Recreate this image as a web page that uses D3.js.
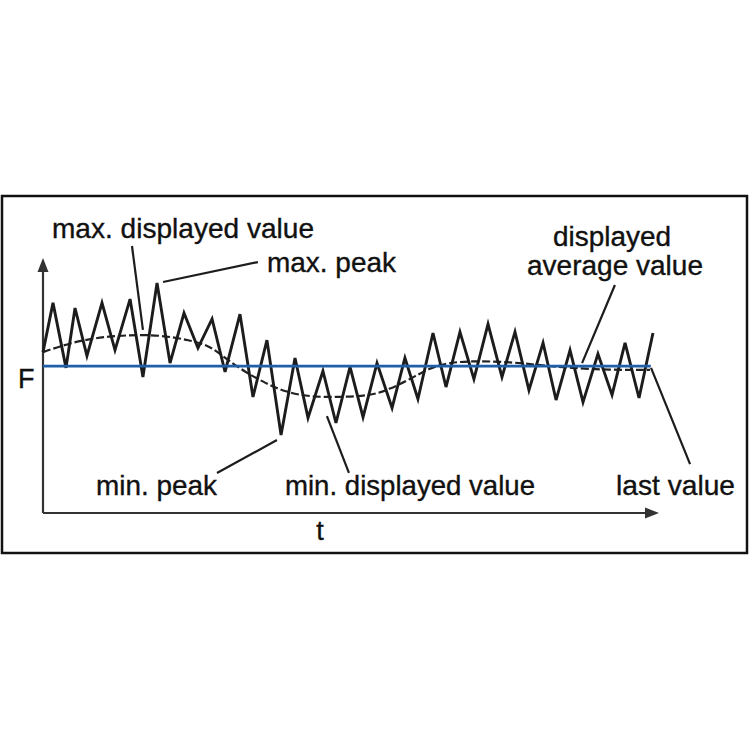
<!DOCTYPE html>
<html>
<head>
<meta charset="utf-8">
<script src="https://cdn.jsdelivr.net/npm/d3@7"></script>
<style>
  html, body { margin: 0; padding: 0; background: #fff; }
  svg { display: block; }
  text { font-family: "Liberation Sans", Arial, Helvetica, sans-serif; fill: #111; stroke: #111; stroke-width: 0.35px; }
</style>
</head>
<body>
<svg id="chart" width="750" height="750"></svg>
<script>
// ---- data (time t in arbitrary units, force F in arbitrary units) ----
const signalT = [0, 0.73, 1.68, 2.34, 3.21, 4.31, 5.26, 6.36, 7.30, 8.33, 9.28, 10.30, 11.32, 12.35, 13.30, 14.39,
  15.34, 16.36, 17.39, 18.41, 19.36, 20.45, 21.40, 22.43, 23.38, 24.40, 25.50, 26.44, 27.39, 28.49, 29.44,
  30.46, 31.48, 32.51, 33.53, 34.48, 35.50, 36.53, 37.48, 38.50, 39.45, 40.54, 41.57, 42.52, 43.54, 44.56];
const signalF = [63.1, 82.4, 56.9, 80.4, 61.6, 82.4, 63.9, 83.9, 53.3, 90.2, 58.8, 78.4, 64.7, 76.1, 55.3, 78.0,
  45.5, 67.8, 30.6, 60.8, 37.3, 55.7, 35.3, 57.3, 37.6, 58.8, 41.2, 60.8, 44.7, 70.6, 49.4,
  71.0, 52.5, 74.1, 53.3, 71.0, 48.2, 66.7, 44.3, 63.9, 43.5, 62.4, 46.3, 66.7, 45.1, 70.6];

const avgT = [0, 1.97, 4.16, 6.36, 8.55, 10.74, 12.20, 13.30, 14.76, 16.22, 17.68, 19.50, 21.70, 23.89,
  25.35, 26.81, 28.27, 29.73, 31.92, 34.11, 36.31, 38.50, 41.42, 44.34];
const avgF = [63.1, 66.7, 69.0, 69.8, 69.8, 67.8, 65.5, 60.8, 55.3, 51.0, 47.5, 45.5, 45.5, 45.9,
  48.6, 52.5, 56.9, 59.2, 59.6, 59.2, 58.0, 56.9, 56.1, 56.1];

const levelF = 57.6;          // blue reference level
const levelT = [0, 44.4];

const axisLabels = { y: "F", x: "t" };

const annoTexts = ["max. displayed value", "max. peak", "displayed", "average value",
  "min. peak", "min. displayed value", "last value"];

// ---- layout ----
const svg = d3.select("#chart");
const x = d3.scaleLinear().domain([0, 45]).range([43, 659]);
const y = d3.scaleLinear().domain([0, 100]).range([513, 258]);

// frame
svg.append("rect").attr("x", 2).attr("y", 196).attr("width", 745).attr("height", 357)
  .attr("fill", "none").attr("stroke", "#111").attr("stroke-width", 2.5);

// axes
const axisColor = "#333";
svg.append("line").attr("x1", x(0)).attr("y1", y(0)).attr("x2", x(0)).attr("y2", y(100) + 10)
  .attr("stroke", axisColor).attr("stroke-width", 2.2);
svg.append("line").attr("x1", x(0)).attr("y1", y(0)).attr("x2", x(45) - 10).attr("y2", y(0))
  .attr("stroke", axisColor).attr("stroke-width", 2.2);
svg.append("path")
  .attr("d", `M${x(0)},${y(100)} L${x(0) - 5.5},${y(100) + 14} L${x(0) + 5.5},${y(100) + 14} Z`)
  .attr("fill", axisColor);
svg.append("path")
  .attr("d", `M${x(45)},${y(0)} L${x(45) - 14},${y(0) - 5.5} L${x(45) - 14},${y(0) + 5.5} Z`)
  .attr("fill", axisColor);

svg.append("text").attr("x", 18).attr("y", 388).attr("font-size", 27).text(axisLabels.y);
svg.append("text").attr("x", 320).attr("y", 540).attr("font-size", 27).attr("text-anchor", "middle").text(axisLabels.x);

// average (dashed smooth curve)
const avgData = avgT.map((t, i) => [t, avgF[i]]);
svg.append("path").datum(avgData)
  .attr("d", d3.line().x(d => x(d[0])).y(d => y(d[1])).curve(d3.curveBasis))
  .attr("fill", "none").attr("stroke", "#222").attr("stroke-width", 2.2)
  .attr("stroke-dasharray", "8,3");

// signal zigzag
const sigData = signalT.map((t, i) => [t, signalF[i]]);
svg.append("path").datum(sigData)
  .attr("d", d3.line().x(d => x(d[0])).y(d => y(d[1])))
  .attr("fill", "none").attr("stroke", "#1c1c1c").attr("stroke-width", 2.9)
  .attr("stroke-linejoin", "miter");

// blue level line
svg.append("line")
  .attr("x1", x(levelT[0])).attr("x2", x(levelT[1]))
  .attr("y1", y(levelF)).attr("y2", y(levelF))
  .attr("stroke", "#1f5ea8").attr("stroke-width", 2.6);

// leader lines (data units)
const leaders = [
  [[6.50, 104.7], [7.30, 71.8]],   // max displayed value
  [[8.77, 90.6], [15.70, 98.4]],   // max peak
  [[41.78, 89.4], [39.38, 58.8]],  // displayed average
  [[12.71, 15.7], [17.09, 28.6]],  // min peak
  [[20.74, 38.0], [22.35, 15.7]],  // min displayed value
  [[44.42, 56.9], [47.27, 19.2]]   // last value
];
leaders.forEach(l => {
  svg.append("line")
    .attr("x1", x(l[0][0])).attr("y1", y(l[0][1]))
    .attr("x2", x(l[1][0])).attr("y2", y(l[1][1]))
    .attr("stroke", "#1c1c1c").attr("stroke-width", 2.2);
});

// annotation texts
const annoPos = [
  { x: 52, y: 238, w: 262, fs: 28 },
  { x: 267, y: 272, w: 129, fs: 28 },
  { x: 553, y: 246, w: 118, fs: 27 },
  { x: 527, y: 275, w: 176, fs: 27 },
  { x: 96, y: 495, w: 121, fs: 28 },
  { x: 285, y: 495, w: 250, fs: 28 },
  { x: 616, y: 495, w: 119, fs: 28 }
];
annoTexts.forEach((s, i) => {
  svg.append("text")
    .attr("x", annoPos[i].x).attr("y", annoPos[i].y)
    .attr("font-size", annoPos[i].fs)
    .attr("textLength", annoPos[i].w)
    .attr("lengthAdjust", "spacingAndGlyphs")
    .text(s);
});
</script>
</body>
</html>
